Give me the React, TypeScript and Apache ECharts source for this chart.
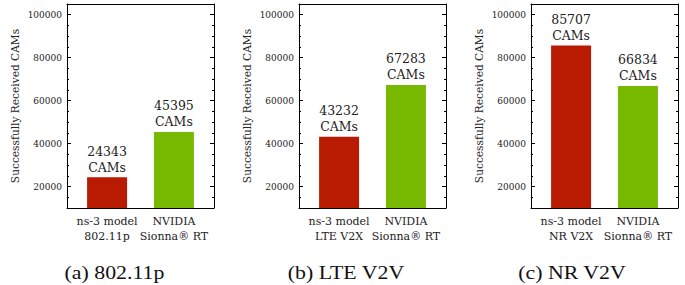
import React, { useEffect, useRef } from "react";
import * as echarts from "echarts";

const panelTitles = ["(a) 802.11p", "(b) LTE V2V", "(c) NR V2V"];
const categories80211p = ["ns-3 model\n802.11p", "NVIDIA\nSionna® RT"];
const categoriesLte = ["ns-3 model\nLTE V2X", "NVIDIA\nSionna® RT"];
const categoriesNr = ["ns-3 model\nNR V2X", "NVIDIA\nSionna® RT"];
const values80211p = [24343, 45395];
const valuesLte = [43232, 67283];
const valuesNr = [85707, 66834];
const yTicks = [20000, 40000, 60000, 80000, 100000];
const yName = "Successfully Received CAMs";

const panelCategories = [categories80211p, categoriesLte, categoriesNr];
const panelValues = [values80211p, valuesLte, valuesNr];
const barColors = ["#b91b02", "#76b900"];
const gridLefts = [67, 299, 531];
const titleCenters = [114.5, 346, 572];

export default function App() {
  const ref = useRef<HTMLDivElement>(null);
  useEffect(() => {
    if (!ref.current) return;
    const chart = echarts.init(ref.current, undefined, { renderer: "svg" });
    const grid: any[] = [];
    const xAxis: any[] = [];
    const yAxis: any[] = [];
    const series: any[] = [];
    const graphic: any[] = [];
    const YMIN = 10000;
    const YMAX = 105000;
    for (let g = 0; g < 3; g++) {
      grid.push({ left: gridLefts[g], width: 147, top: 4, height: 204 });
      const cats = panelCategories[g];
      xAxis.push({
        type: "value",
        gridIndex: g,
        min: -0.6,
        max: 1.6,
        position: "bottom",
        axisLine: { show: true, onZero: false, lineStyle: { color: "#000", width: 1 } },
        axisTick: { show: false },
        splitLine: { show: false },
        axisLabel: {
          customValues: [0, 1],
          formatter: (v: number) => cats[Math.round(v)] ?? "",
          fontFamily: "DejaVu Serif",
          fontSize: 11,
          lineHeight: 15,
          color: "#222",
          margin: 6,
        },
      });
      xAxis.push({
        type: "value",
        gridIndex: g,
        min: -0.6,
        max: 1.6,
        position: "top",
        axisLine: { show: true, onZero: false, lineStyle: { color: "#000", width: 1 } },
        axisTick: { show: false },
        axisLabel: { show: false },
        splitLine: { show: false },
      });
      const common = {
        type: "value",
        gridIndex: g,
        min: YMIN,
        max: YMAX,
        splitLine: { show: false },
      };
      yAxis.push({
        ...common,
        position: "left",
        name: yName,
        nameLocation: "middle",
        nameGap: 47,
        nameTextStyle: { fontFamily: "DejaVu Serif", fontSize: 10.6, color: "#222" },
        axisLine: { show: true, onZero: false, lineStyle: { color: "#000", width: 1 } },
        axisTick: {
          show: true,
          inside: true,
          length: 4,
          customValues: yTicks,
          lineStyle: { color: "#000", width: 1 },
        },
        axisLabel: {
          customValues: yTicks,
          formatter: (v: number) => String(v),
          fontFamily: "DejaVu Serif",
          fontSize: 9,
          color: "#222",
          margin: 5,
        },
      });
      yAxis.push({
        ...common,
        position: "left",
        interval: 5000,
        axisLine: { show: false, onZero: false },
        axisTick: { show: true, inside: true, length: 2, lineStyle: { color: "#000", width: 1 } },
        axisLabel: { show: false },
      });
      yAxis.push({
        ...common,
        position: "right",
        axisLine: { show: true, onZero: false, lineStyle: { color: "#000", width: 1 } },
        axisTick: {
          show: true,
          inside: true,
          length: 4,
          customValues: yTicks,
          lineStyle: { color: "#000", width: 1 },
        },
        axisLabel: { show: false },
      });
      yAxis.push({
        ...common,
        position: "right",
        interval: 5000,
        axisLine: { show: false, onZero: false },
        axisTick: { show: true, inside: true, length: 2, lineStyle: { color: "#000", width: 1 } },
        axisLabel: { show: false },
      });
      const vals = panelValues[g];
      series.push({
        type: "bar",
        xAxisIndex: 2 * g,
        yAxisIndex: 4 * g,
        barWidth: 40,
        data: vals.map((v, i) => ({ value: [i, v], itemStyle: { color: barColors[i] } })),
        label: {
          show: true,
          position: "top",
          distance: 2,
          formatter: (p: any) => `${p.value[1]}\nCAMs`,
          fontFamily: "DejaVu Serif",
          fontSize: 12.5,
          lineHeight: 16,
          color: "#222",
        },
      });
      graphic.push({
        type: "text",
        x: titleCenters[g],
        y: 273,
        scaleX: 1.15,
        style: {
          text: panelTitles[g],
          font: "19px 'Liberation Serif'",
          fill: "#111",
          textAlign: "center",
          textVerticalAlign: "middle",
        },
      });
    }
    chart.setOption({
      animation: false,
      backgroundColor: "#fff",
      grid,
      xAxis,
      yAxis,
      series,
      graphic,
    });
    return () => chart.dispose();
  }, []);
  return (
    <div
      ref={ref}
      style={{ position: "fixed", left: 0, top: 0, width: 685, height: 285 }}
    />
  );
}
